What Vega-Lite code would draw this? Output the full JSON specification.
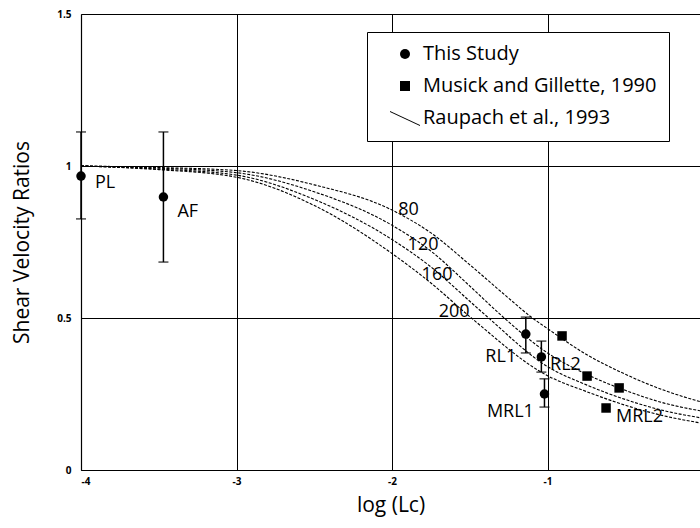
{
  "$schema": "https://vega.github.io/schema/vega-lite/v6.json",
  "autosize": "none",
  "width": 619,
  "height": 456,
  "padding": {"left": 81, "top": 14, "right": 0, "bottom": 58},
  "background": "white",
  "config": {
    "view": {"stroke": null},
    "font": "Open Sans",
    "axis": {
      "grid": true, "gridColor": "black", "gridOpacity": 1, "gridWidth": 1,
      "domainColor": "black", "domainWidth": 1.2, "ticks": false,
      "labelFont": "Open Sans", "labelFontWeight": "bold", "labelFontSize": 10, "labelColor": "black",
      "titleFont": "Open Sans", "titleFontWeight": "normal", "titleColor": "black"
    }
  },
  "datasets": {
    "curves": [
      {"x": -4, "y": 1.0, "beta": "80"}, {"x": -3.5, "y": 0.995, "beta": "80"}, {"x": -3, "y": 0.985, "beta": "80"}, {"x": -2.5, "y": 0.938, "beta": "80"}, {"x": -2, "y": 0.855, "beta": "80"}, {"x": -1.75, "y": 0.78, "beta": "80"}, {"x": -1.5, "y": 0.675, "beta": "80"}, {"x": -1.25, "y": 0.565, "beta": "80"}, {"x": -1.11, "y": 0.505, "beta": "80"}, {"x": -1, "y": 0.465, "beta": "80"}, {"x": -0.75, "y": 0.38, "beta": "80"}, {"x": -0.5, "y": 0.315, "beta": "80"}, {"x": -0.25, "y": 0.262, "beta": "80"}, {"x": -0.02, "y": 0.225, "beta": "80"},
      {"x": -4, "y": 1.0, "beta": "120"}, {"x": -3.5, "y": 0.993, "beta": "120"}, {"x": -3, "y": 0.978, "beta": "120"}, {"x": -2.5, "y": 0.915, "beta": "120"}, {"x": -2, "y": 0.805, "beta": "120"}, {"x": -1.75, "y": 0.72, "beta": "120"}, {"x": -1.5, "y": 0.605, "beta": "120"}, {"x": -1.29, "y": 0.505, "beta": "120"}, {"x": -1, "y": 0.385, "beta": "120"}, {"x": -0.75, "y": 0.315, "beta": "120"}, {"x": -0.5, "y": 0.262, "beta": "120"}, {"x": -0.25, "y": 0.22, "beta": "120"}, {"x": -0.02, "y": 0.195, "beta": "120"},
      {"x": -4, "y": 1.0, "beta": "160"}, {"x": -3.5, "y": 0.99, "beta": "160"}, {"x": -3, "y": 0.97, "beta": "160"}, {"x": -2.5, "y": 0.89, "beta": "160"}, {"x": -2, "y": 0.758, "beta": "160"}, {"x": -1.75, "y": 0.668, "beta": "160"}, {"x": -1.5, "y": 0.555, "beta": "160"}, {"x": -1.39, "y": 0.505, "beta": "160"}, {"x": -1, "y": 0.34, "beta": "160"}, {"x": -0.75, "y": 0.28, "beta": "160"}, {"x": -0.5, "y": 0.232, "beta": "160"}, {"x": -0.25, "y": 0.195, "beta": "160"}, {"x": -0.02, "y": 0.172, "beta": "160"},
      {"x": -4, "y": 1.0, "beta": "200"}, {"x": -3.5, "y": 0.988, "beta": "200"}, {"x": -3, "y": 0.963, "beta": "200"}, {"x": -2.5, "y": 0.87, "beta": "200"}, {"x": -2, "y": 0.712, "beta": "200"}, {"x": -1.75, "y": 0.615, "beta": "200"}, {"x": -1.49, "y": 0.5, "beta": "200"}, {"x": -1, "y": 0.31, "beta": "200"}, {"x": -0.75, "y": 0.258, "beta": "200"}, {"x": -0.5, "y": 0.213, "beta": "200"}, {"x": -0.25, "y": 0.178, "beta": "200"}, {"x": -0.02, "y": 0.155, "beta": "200"}
    ],
    "points": [
      {"site": "PL", "x": -4, "y": 0.967, "lo": 0.826, "hi": 1.112, "series": "This Study"},
      {"site": "AF", "x": -3.47, "y": 0.898, "lo": 0.684, "hi": 1.112, "series": "This Study"},
      {"site": "RL1", "x": -1.14, "y": 0.447, "lo": 0.385, "hi": 0.503, "series": "This Study"},
      {"site": "RL2", "x": -1.04, "y": 0.372, "lo": 0.322, "hi": 0.424, "series": "This Study"},
      {"site": "MRL1", "x": -1.02, "y": 0.25, "lo": 0.207, "hi": 0.30, "series": "This Study"},
      {"site": "M1", "x": -0.907, "y": 0.441, "series": "Musick and Gillette, 1990"},
      {"site": "M2", "x": -0.746, "y": 0.309, "series": "Musick and Gillette, 1990"},
      {"site": "M3", "x": -0.54, "y": 0.27, "series": "Musick and Gillette, 1990"},
      {"site": "M4", "x": -0.624, "y": 0.204, "series": "Musick and Gillette, 1990"}
    ],
    "labels": [
      {"label": "PL", "x": -3.91, "y": 0.944},
      {"label": "AF", "x": -3.38, "y": 0.849},
      {"label": "RL1", "x": -1.40, "y": 0.372},
      {"label": "RL2", "x": -0.984, "y": 0.345},
      {"label": "MRL1", "x": -1.39, "y": 0.19},
      {"label": "MRL2", "x": -0.56, "y": 0.174},
      {"label": "80", "x": -1.96, "y": 0.855},
      {"label": "120", "x": -1.90, "y": 0.74},
      {"label": "160", "x": -1.81, "y": 0.641},
      {"label": "200", "x": -1.70, "y": 0.52}
    ]
  },
  "layer": [
    {
      "data": {"name": "curves"},
      "mark": {"type": "line", "color": "black", "strokeWidth": 1.1, "strokeDash": [3, 1.5], "interpolate": "monotone"},
      "encoding": {
        "x": {"field": "x", "type": "quantitative", "scale": {"domain": [-4, -0.02], "nice": false, "zero": false},
          "axis": {"values": [-4, -3, -2, -1], "labelExpr": "'' + datum.value", "title": "log (Lc)", "titleFontSize": 21, "titlePadding": 8, "labelPadding": 6}},
        "y": {"field": "y", "type": "quantitative", "scale": {"domain": [0, 1.5], "nice": false},
          "axis": {"values": [0, 0.5, 1, 1.5], "labelExpr": "'' + datum.value", "title": "Shear Velocity Ratios", "titleFontSize": 21, "titlePadding": 24, "labelPadding": 10}},
        "detail": {"field": "beta"}
      }
    },
    {
      "data": {"name": "points"},
      "transform": [{"filter": "isValid(datum.lo)"}],
      "mark": {"type": "rule", "color": "black", "strokeWidth": 1.5},
      "encoding": {
        "x": {"field": "x", "type": "quantitative"},
        "y": {"field": "lo", "type": "quantitative"},
        "y2": {"field": "hi"}
      }
    },
    {
      "data": {"name": "points"},
      "transform": [{"filter": "isValid(datum.lo)"}],
      "mark": {"type": "tick", "orient": "horizontal", "color": "black", "size": 10, "thickness": 1.5},
      "encoding": {
        "x": {"field": "x", "type": "quantitative"},
        "y": {"field": "lo", "type": "quantitative"}
      }
    },
    {
      "data": {"name": "points"},
      "transform": [{"filter": "isValid(datum.hi)"}],
      "mark": {"type": "tick", "orient": "horizontal", "color": "black", "size": 10, "thickness": 1.5},
      "encoding": {
        "x": {"field": "x", "type": "quantitative"},
        "y": {"field": "hi", "type": "quantitative"}
      }
    },
    {
      "data": {"name": "points"},
      "mark": {"type": "point", "filled": true, "color": "black", "opacity": 1, "size": 90},
      "encoding": {
        "x": {"field": "x", "type": "quantitative"},
        "y": {"field": "y", "type": "quantitative"},
        "shape": {
          "field": "series", "type": "nominal",
          "scale": {"domain": ["This Study", "Musick and Gillette, 1990", "Raupach et al., 1993"], "range": ["circle", "square", "M-3,-1.4L3,1.4L3,1.6L-3,-1.2Z"]},
          "legend": {
            "title": null, "orient": "none", "legendX": 286, "legendY": 18,
            "strokeColor": "black", "fillColor": "white", "padding": 12,
            "labelFont": "Open Sans", "labelFontSize": 20, "labelColor": "black", "labelLimit": 400,
            "symbolSize": 100, "symbolFillColor": "black",
            "symbolOffset": 16, "labelOffset": 8, "rowPadding": 12,
            "encode": {"symbols": {
              "fill": {"value": "black"},
              "opacity": {"value": 1}
            }}
          }
        }
      }
    },
    {
      "data": {"name": "labels"},
      "mark": {"type": "text", "align": "left", "baseline": "middle", "font": "Open Sans", "fontSize": 18, "color": "black"},
      "encoding": {
        "x": {"field": "x", "type": "quantitative"},
        "y": {"field": "y", "type": "quantitative"},
        "text": {"field": "label"}
      }
    }
  ]
}
